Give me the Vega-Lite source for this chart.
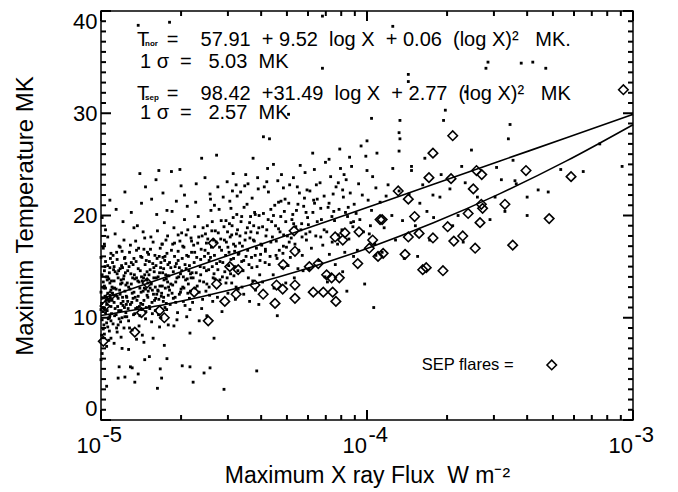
{
  "$schema": "https://vega.github.io/schema/vega-lite/v6.json",
  "autosize": "none",
  "width": 532,
  "height": 409,
  "padding": {"left": 101, "top": 11, "right": 45, "bottom": 72},
  "background": "white",
  "config": {
    "font": "Liberation Sans",
    "view": {"stroke": "black", "strokeWidth": 1.5},
    "axis": {"grid": false, "domain": false, "ticks": false, "tickSize": 0, "labelColor": "black", "titleColor": "black", "titleFontWeight": "normal", "labelOverlap": false}
  },
  "datasets": {
    "dots": [
{"flux":1.00e-5,"temp":12.5},{"flux":1.01e-5,"temp":9.8},{"flux":1.01e-5,"temp":14.2},{"flux":1.02e-5,"temp":11.0},{"flux":1.02e-5,"temp":16.8},{"flux":1.03e-5,"temp":8.4},{"flux":1.03e-5,"temp":13.1},{"flux":1.04e-5,"temp":10.5},{"flux":1.04e-5,"temp":15.5},{"flux":1.05e-5,"temp":12.0},{"flux":1.05e-5,"temp":7.2},{"flux":1.06e-5,"temp":17.9},{"flux":1.06e-5,"temp":9.1},{"flux":1.07e-5,"temp":13.8},{"flux":1.07e-5,"temp":11.6},{"flux":1.08e-5,"temp":10.2},{"flux":1.08e-5,"temp":14.9},{"flux":1.09e-5,"temp":8.0},{"flux":1.09e-5,"temp":12.7},{"flux":1.00e-5,"temp":15.9},{"flux":1.01e-5,"temp":6.5},{"flux":1.02e-5,"temp":13.5},{"flux":1.03e-5,"temp":10.9},{"flux":1.04e-5,"temp":18.6},{"flux":1.05e-5,"temp":9.5},{"flux":1.06e-5,"temp":14.0},{"flux":1.07e-5,"temp":7.8},{"flux":1.08e-5,"temp":12.2},{"flux":1.09e-5,"temp":16.3},{"flux":1.00e-5,"temp":10.8},{"flux":1.02e-5,"temp":8.9},{"flux":1.03e-5,"temp":17.2},{"flux":1.04e-5,"temp":12.9},{"flux":1.05e-5,"temp":11.3},{"flux":1.06e-5,"temp":15.1},{"flux":1.07e-5,"temp":10.0},{"flux":1.08e-5,"temp":13.4},{"flux":1.09e-5,"temp":11.1},{"flux":1.00e-5,"temp":5.9},{"flux":1.01e-5,"temp":19.8},{"flux":1.05e-5,"temp":3.3},{"flux":1.08e-5,"temp":21.5},{"flux":1.03e-5,"temp":14.6},{"flux":1.06e-5,"temp":12.4},{"flux":1.09e-5,"temp":9.7},
{"flux":1.10e-5,"temp":13.0},{"flux":1.11e-5,"temp":9.4},{"flux":1.11e-5,"temp":16.1},{"flux":1.12e-5,"temp":11.5},{"flux":1.12e-5,"temp":7.5},{"flux":1.13e-5,"temp":14.5},{"flux":1.13e-5,"temp":18.2},{"flux":1.14e-5,"temp":10.3},{"flux":1.14e-5,"temp":12.8},{"flux":1.15e-5,"temp":15.7},{"flux":1.15e-5,"temp":8.6},{"flux":1.16e-5,"temp":11.9},{"flux":1.16e-5,"temp":13.9},{"flux":1.17e-5,"temp":9.9},{"flux":1.17e-5,"temp":17.0},{"flux":1.18e-5,"temp":12.3},{"flux":1.18e-5,"temp":14.8},{"flux":1.19e-5,"temp":10.7},{"flux":1.19e-5,"temp":8.1},{"flux":1.20e-5,"temp":13.4},{"flux":1.20e-5,"temp":16.5},{"flux":1.21e-5,"temp":11.2},{"flux":1.21e-5,"temp":19.4},{"flux":1.22e-5,"temp":9.0},{"flux":1.22e-5,"temp":14.1},{"flux":1.23e-5,"temp":12.6},{"flux":1.23e-5,"temp":10.1},{"flux":1.24e-5,"temp":15.3},{"flux":1.24e-5,"temp":13.2},{"flux":1.10e-5,"temp":11.7},{"flux":1.12e-5,"temp":15.0},{"flux":1.13e-5,"temp":10.9},{"flux":1.15e-5,"temp":12.1},{"flux":1.16e-5,"temp":9.3},{"flux":1.18e-5,"temp":16.9},{"flux":1.19e-5,"temp":13.7},{"flux":1.21e-5,"temp":11.6},{"flux":1.22e-5,"temp":17.6},{"flux":1.24e-5,"temp":10.5},{"flux":1.11e-5,"temp":12.9},{"flux":1.14e-5,"temp":20.6},{"flux":1.17e-5,"temp":5.2},{"flux":1.20e-5,"temp":7.0},{"flux":1.23e-5,"temp":22.3},{"flux":1.15e-5,"temp":14.3},{"flux":1.19e-5,"temp":11.4},{"flux":1.12e-5,"temp":13.6},{"flux":1.20e-5,"temp":10.0},{"flux":1.16e-5,"temp":4.1},{"flux":1.23e-5,"temp":15.9},
{"flux":1.25e-5,"temp":12.0},{"flux":1.26e-5,"temp":14.6},{"flux":1.27e-5,"temp":9.7},{"flux":1.28e-5,"temp":16.4},{"flux":1.29e-5,"temp":11.3},{"flux":1.30e-5,"temp":13.3},{"flux":1.31e-5,"temp":8.8},{"flux":1.32e-5,"temp":15.2},{"flux":1.33e-5,"temp":12.5},{"flux":1.34e-5,"temp":10.4},{"flux":1.35e-5,"temp":17.5},{"flux":1.36e-5,"temp":13.9},{"flux":1.37e-5,"temp":11.0},{"flux":1.38e-5,"temp":14.8},{"flux":1.39e-5,"temp":9.2},{"flux":1.40e-5,"temp":12.9},{"flux":1.41e-5,"temp":16.0},{"flux":1.42e-5,"temp":10.8},{"flux":1.43e-5,"temp":13.6},{"flux":1.44e-5,"temp":18.4},{"flux":1.45e-5,"temp":11.7},{"flux":1.46e-5,"temp":14.2},{"flux":1.47e-5,"temp":9.9},{"flux":1.48e-5,"temp":15.6},{"flux":1.49e-5,"temp":12.2},{"flux":1.25e-5,"temp":10.1},{"flux":1.27e-5,"temp":13.0},{"flux":1.29e-5,"temp":17.1},{"flux":1.31e-5,"temp":12.4},{"flux":1.33e-5,"temp":15.8},{"flux":1.35e-5,"temp":10.9},{"flux":1.37e-5,"temp":19.0},{"flux":1.39e-5,"temp":13.5},{"flux":1.41e-5,"temp":11.4},{"flux":1.43e-5,"temp":8.3},{"flux":1.45e-5,"temp":16.7},{"flux":1.47e-5,"temp":12.8},{"flux":1.49e-5,"temp":14.5},{"flux":1.26e-5,"temp":11.6},{"flux":1.28e-5,"temp":9.0},{"flux":1.30e-5,"temp":15.4},{"flux":1.32e-5,"temp":11.9},{"flux":1.34e-5,"temp":13.8},{"flux":1.36e-5,"temp":16.6},{"flux":1.38e-5,"temp":12.1},{"flux":1.40e-5,"temp":10.2},{"flux":1.42e-5,"temp":14.0},{"flux":1.44e-5,"temp":12.6},{"flux":1.46e-5,"temp":17.8},{"flux":1.48e-5,"temp":11.0},{"flux":1.30e-5,"temp":20.3},{"flux":1.42e-5,"temp":21.2},{"flux":1.34e-5,"temp":3.7},{"flux":1.38e-5,"temp":4.5},{"flux":1.47e-5,"temp":22.8},{"flux":1.27e-5,"temp":6.9},{"flux":1.45e-5,"temp":7.6},{"flux":1.33e-5,"temp":18.8},{"flux":1.40e-5,"temp":24.1},{"flux":1.36e-5,"temp":7.9},
{"flux":1.50e-5,"temp":13.4},{"flux":1.51e-5,"temp":16.2},{"flux":1.52e-5,"temp":11.1},{"flux":1.53e-5,"temp":14.7},{"flux":1.55e-5,"temp":9.6},{"flux":1.56e-5,"temp":12.7},{"flux":1.57e-5,"temp":17.4},{"flux":1.58e-5,"temp":13.9},{"flux":1.60e-5,"temp":10.7},{"flux":1.61e-5,"temp":15.1},{"flux":1.62e-5,"temp":12.3},{"flux":1.63e-5,"temp":18.5},{"flux":1.65e-5,"temp":11.8},{"flux":1.66e-5,"temp":14.4},{"flux":1.67e-5,"temp":16.8},{"flux":1.68e-5,"temp":10.0},{"flux":1.70e-5,"temp":13.1},{"flux":1.71e-5,"temp":15.9},{"flux":1.72e-5,"temp":12.0},{"flux":1.73e-5,"temp":19.3},{"flux":1.75e-5,"temp":14.2},{"flux":1.76e-5,"temp":11.4},{"flux":1.77e-5,"temp":16.3},{"flux":1.78e-5,"temp":13.5},{"flux":1.79e-5,"temp":9.3},{"flux":1.50e-5,"temp":12.0},{"flux":1.52e-5,"temp":15.5},{"flux":1.54e-5,"temp":17.9},{"flux":1.56e-5,"temp":10.4},{"flux":1.58e-5,"temp":14.9},{"flux":1.60e-5,"temp":13.0},{"flux":1.62e-5,"temp":20.1},{"flux":1.64e-5,"temp":12.6},{"flux":1.66e-5,"temp":9.1},{"flux":1.68e-5,"temp":15.4},{"flux":1.70e-5,"temp":17.2},{"flux":1.72e-5,"temp":14.8},{"flux":1.74e-5,"temp":11.0},{"flux":1.76e-5,"temp":13.8},{"flux":1.78e-5,"temp":18.0},{"flux":1.53e-5,"temp":12.9},{"flux":1.59e-5,"temp":11.7},{"flux":1.64e-5,"temp":14.0},{"flux":1.69e-5,"temp":12.4},{"flux":1.74e-5,"temp":16.0},{"flux":1.79e-5,"temp":12.2},{"flux":1.55e-5,"temp":21.6},{"flux":1.61e-5,"temp":23.5},{"flux":1.67e-5,"temp":5.0},{"flux":1.71e-5,"temp":22.2},{"flux":1.57e-5,"temp":8.0},{"flux":1.65e-5,"temp":24.4},{"flux":1.77e-5,"temp":20.5},{"flux":1.73e-5,"temp":7.3},{"flux":1.63e-5,"temp":3.1},
{"flux":1.80e-5,"temp":14.1},{"flux":1.82e-5,"temp":11.3},{"flux":1.84e-5,"temp":16.6},{"flux":1.86e-5,"temp":13.2},{"flux":1.88e-5,"temp":18.8},{"flux":1.90e-5,"temp":12.0},{"flux":1.92e-5,"temp":15.3},{"flux":1.94e-5,"temp":10.5},{"flux":1.96e-5,"temp":14.0},{"flux":1.98e-5,"temp":17.5},{"flux":2.00e-5,"temp":12.8},{"flux":2.02e-5,"temp":15.8},{"flux":2.04e-5,"temp":11.6},{"flux":2.06e-5,"temp":19.6},{"flux":2.08e-5,"temp":13.7},{"flux":2.10e-5,"temp":16.1},{"flux":2.12e-5,"temp":12.4},{"flux":2.14e-5,"temp":14.6},{"flux":2.16e-5,"temp":10.8},{"flux":2.18e-5,"temp":17.8},{"flux":1.81e-5,"temp":12.7},{"flux":1.83e-5,"temp":14.9},{"flux":1.85e-5,"temp":20.4},{"flux":1.87e-5,"temp":11.9},{"flux":1.89e-5,"temp":16.0},{"flux":1.91e-5,"temp":13.5},{"flux":1.93e-5,"temp":9.8},{"flux":1.95e-5,"temp":15.6},{"flux":1.97e-5,"temp":12.3},{"flux":1.99e-5,"temp":14.3},{"flux":2.01e-5,"temp":18.3},{"flux":2.03e-5,"temp":13.0},{"flux":2.05e-5,"temp":16.9},{"flux":2.07e-5,"temp":11.2},{"flux":2.09e-5,"temp":14.8},{"flux":2.11e-5,"temp":20.9},{"flux":2.13e-5,"temp":13.3},{"flux":2.15e-5,"temp":15.1},{"flux":2.17e-5,"temp":12.6},{"flux":2.19e-5,"temp":16.4},{"flux":1.84e-5,"temp":24.3},{"flux":1.98e-5,"temp":24.5},{"flux":1.92e-5,"temp":21.4},{"flux":2.06e-5,"temp":22.0},{"flux":2.16e-5,"temp":8.5},{"flux":1.88e-5,"temp":9.2},{"flux":2.02e-5,"temp":5.3},{"flux":1.95e-5,"temp":18.1},{"flux":2.10e-5,"temp":10.1},{"flux":2.00e-5,"temp":22.9},{"flux":1.86e-5,"temp":17.2},{"flux":2.12e-5,"temp":18.6},{"flux":2.04e-5,"temp":14.0},{"flux":1.90e-5,"temp":15.0},{"flux":2.18e-5,"temp":13.9},
{"flux":2.20e-5,"temp":14.4},{"flux":2.23e-5,"temp":17.1},{"flux":2.26e-5,"temp":12.9},{"flux":2.29e-5,"temp":15.9},{"flux":2.32e-5,"temp":19.9},{"flux":2.35e-5,"temp":13.6},{"flux":2.38e-5,"temp":16.7},{"flux":2.41e-5,"temp":11.8},{"flux":2.44e-5,"temp":14.9},{"flux":2.47e-5,"temp":18.2},{"flux":2.50e-5,"temp":13.3},{"flux":2.53e-5,"temp":16.3},{"flux":2.56e-5,"temp":12.2},{"flux":2.59e-5,"temp":20.5},{"flux":2.62e-5,"temp":15.0},{"flux":2.65e-5,"temp":17.6},{"flux":2.68e-5,"temp":13.8},{"flux":2.21e-5,"temp":11.5},{"flux":2.24e-5,"temp":15.4},{"flux":2.27e-5,"temp":21.3},{"flux":2.30e-5,"temp":13.1},{"flux":2.33e-5,"temp":17.9},{"flux":2.36e-5,"temp":15.0},{"flux":2.39e-5,"temp":10.9},{"flux":2.42e-5,"temp":18.8},{"flux":2.45e-5,"temp":16.0},{"flux":2.48e-5,"temp":12.6},{"flux":2.51e-5,"temp":19.0},{"flux":2.54e-5,"temp":14.7},{"flux":2.57e-5,"temp":22.1},{"flux":2.60e-5,"temp":16.9},{"flux":2.63e-5,"temp":11.6},{"flux":2.66e-5,"temp":14.3},{"flux":2.69e-5,"temp":18.5},{"flux":2.39e-5,"temp":25.6},{"flux":2.22e-5,"temp":3.7},{"flux":2.44e-5,"temp":4.6},{"flux":2.58e-5,"temp":21.6},{"flux":2.28e-5,"temp":23.1},{"flux":2.66e-5,"temp":8.0},{"flux":2.50e-5,"temp":10.2},{"flux":2.34e-5,"temp":9.7},{"flux":2.72e-5,"temp":25.9},{"flux":2.46e-5,"temp":23.7},{"flux":2.62e-5,"temp":19.4},{"flux":2.25e-5,"temp":18.9},{"flux":2.55e-5,"temp":15.6},{"flux":2.37e-5,"temp":14.2},{"flux":2.49e-5,"temp":17.3},{"flux":2.67e-5,"temp":21.0},
{"flux":2.72e-5,"temp":15.3},{"flux":2.76e-5,"temp":18.3},{"flux":2.80e-5,"temp":13.7},{"flux":2.84e-5,"temp":16.6},{"flux":2.88e-5,"temp":21.8},{"flux":2.92e-5,"temp":14.5},{"flux":2.96e-5,"temp":17.4},{"flux":3.00e-5,"temp":12.4},{"flux":3.04e-5,"temp":19.2},{"flux":3.08e-5,"temp":15.7},{"flux":3.12e-5,"temp":22.4},{"flux":3.16e-5,"temp":14.1},{"flux":3.20e-5,"temp":17.0},{"flux":3.24e-5,"temp":20.1},{"flux":3.28e-5,"temp":16.2},{"flux":2.74e-5,"temp":12.0},{"flux":2.78e-5,"temp":20.6},{"flux":2.82e-5,"temp":17.7},{"flux":2.86e-5,"temp":14.0},{"flux":2.90e-5,"temp":18.9},{"flux":2.94e-5,"temp":16.1},{"flux":2.98e-5,"temp":23.3},{"flux":3.02e-5,"temp":15.1},{"flux":3.06e-5,"temp":17.9},{"flux":3.10e-5,"temp":13.4},{"flux":3.14e-5,"temp":19.8},{"flux":3.18e-5,"temp":16.5},{"flux":3.22e-5,"temp":13.0},{"flux":3.26e-5,"temp":18.6},{"flux":3.14e-5,"temp":24.1},{"flux":3.05e-5,"temp":21.4},{"flux":2.85e-5,"temp":10.6},{"flux":3.20e-5,"temp":11.8},{"flux":2.95e-5,"temp":19.5},{"flux":3.25e-5,"temp":21.9},{"flux":2.80e-5,"temp":15.5},{"flux":3.00e-5,"temp":16.9},{"flux":3.10e-5,"temp":18.1},{"flux":2.75e-5,"temp":22.8},{"flux":3.28e-5,"temp":12.8},{"flux":2.90e-5,"temp":3.0},{"flux":3.15e-5,"temp":15.8},{"flux":2.98e-5,"temp":13.9},{"flux":3.08e-5,"temp":20.7},{"flux":3.22e-5,"temp":23.0},
{"flux":3.30e-5,"temp":16.3},{"flux":3.36e-5,"temp":19.4},{"flux":3.42e-5,"temp":14.6},{"flux":3.48e-5,"temp":17.6},{"flux":3.54e-5,"temp":21.1},{"flux":3.60e-5,"temp":15.2},{"flux":3.66e-5,"temp":18.4},{"flux":3.72e-5,"temp":13.6},{"flux":3.78e-5,"temp":20.3},{"flux":3.84e-5,"temp":16.8},{"flux":3.90e-5,"temp":22.6},{"flux":3.96e-5,"temp":15.6},{"flux":3.33e-5,"temp":18.0},{"flux":3.39e-5,"temp":13.0},{"flux":3.45e-5,"temp":20.8},{"flux":3.51e-5,"temp":16.0},{"flux":3.57e-5,"temp":23.1},{"flux":3.63e-5,"temp":17.8},{"flux":3.69e-5,"temp":14.9},{"flux":3.75e-5,"temp":19.0},{"flux":3.81e-5,"temp":12.7},{"flux":3.87e-5,"temp":18.3},{"flux":3.93e-5,"temp":20.0},{"flux":3.99e-5,"temp":17.2},{"flux":3.73e-5,"temp":25.6},{"flux":3.35e-5,"temp":22.3},{"flux":3.50e-5,"temp":24.0},{"flux":3.85e-5,"temp":4.8},{"flux":3.62e-5,"temp":11.6},{"flux":3.44e-5,"temp":12.3},{"flux":3.95e-5,"temp":14.2},{"flux":3.70e-5,"temp":21.7},{"flux":3.40e-5,"temp":17.0},{"flux":3.80e-5,"temp":16.1},{"flux":3.55e-5,"temp":18.8},{"flux":3.65e-5,"temp":19.9},{"flux":3.92e-5,"temp":11.3},{"flux":3.38e-5,"temp":15.5},{"flux":3.88e-5,"temp":23.7},{"flux":3.58e-5,"temp":13.9},{"flux":3.47e-5,"temp":22.9},{"flux":3.77e-5,"temp":17.5},
{"flux":4.02e-5,"temp":17.1},{"flux":4.08e-5,"temp":20.2},{"flux":4.14e-5,"temp":15.4},{"flux":4.20e-5,"temp":18.6},{"flux":4.26e-5,"temp":22.3},{"flux":4.32e-5,"temp":16.0},{"flux":4.38e-5,"temp":19.4},{"flux":4.44e-5,"temp":14.2},{"flux":4.50e-5,"temp":21.0},{"flux":4.56e-5,"temp":17.5},{"flux":4.62e-5,"temp":23.4},{"flux":4.68e-5,"temp":16.6},{"flux":4.74e-5,"temp":19.9},{"flux":4.80e-5,"temp":14.9},{"flux":4.86e-5,"temp":18.1},{"flux":4.92e-5,"temp":21.6},{"flux":4.98e-5,"temp":16.9},{"flux":4.05e-5,"temp":13.5},{"flux":4.11e-5,"temp":22.8},{"flux":4.17e-5,"temp":18.0},{"flux":4.23e-5,"temp":24.6},{"flux":4.29e-5,"temp":15.2},{"flux":4.35e-5,"temp":20.6},{"flux":4.41e-5,"temp":17.9},{"flux":4.47e-5,"temp":12.9},{"flux":4.53e-5,"temp":19.0},{"flux":4.59e-5,"temp":15.8},{"flux":4.65e-5,"temp":21.3},{"flux":4.71e-5,"temp":18.4},{"flux":4.77e-5,"temp":24.0},{"flux":4.83e-5,"temp":16.3},{"flux":4.89e-5,"temp":20.4},{"flux":4.95e-5,"temp":13.4},{"flux":4.08e-5,"temp":27.7},{"flux":4.30e-5,"temp":27.5},{"flux":4.20e-5,"temp":23.3},{"flux":4.60e-5,"temp":10.2},{"flux":4.45e-5,"temp":25.0},{"flux":4.85e-5,"temp":22.7},{"flux":4.15e-5,"temp":16.7},
{"flux":5.02e-5,"temp":18.0},{"flux":5.08e-5,"temp":21.2},{"flux":5.15e-5,"temp":15.9},{"flux":5.22e-5,"temp":19.6},{"flux":5.29e-5,"temp":23.7},{"flux":5.36e-5,"temp":17.2},{"flux":5.43e-5,"temp":20.5},{"flux":5.50e-5,"temp":14.8},{"flux":5.57e-5,"temp":22.2},{"flux":5.64e-5,"temp":18.6},{"flux":5.71e-5,"temp":16.1},{"flux":5.78e-5,"temp":20.9},{"flux":5.85e-5,"temp":24.2},{"flux":5.92e-5,"temp":17.6},{"flux":5.98e-5,"temp":19.8},{"flux":5.05e-5,"temp":15.1},{"flux":5.12e-5,"temp":23.0},{"flux":5.19e-5,"temp":17.8},{"flux":5.26e-5,"temp":20.1},{"flux":5.33e-5,"temp":13.9},{"flux":5.40e-5,"temp":18.9},{"flux":5.47e-5,"temp":22.8},{"flux":5.54e-5,"temp":16.6},{"flux":5.61e-5,"temp":24.9},{"flux":5.68e-5,"temp":19.2},{"flux":5.75e-5,"temp":14.6},{"flux":5.82e-5,"temp":21.7},{"flux":5.89e-5,"temp":18.2},{"flux":5.07e-5,"temp":29.9},{"flux":5.95e-5,"temp":22.5},
{"flux":6.02e-5,"temp":19.1},{"flux":6.10e-5,"temp":22.4},{"flux":6.18e-5,"temp":16.8},{"flux":6.26e-5,"temp":20.3},{"flux":6.34e-5,"temp":24.5},{"flux":6.42e-5,"temp":18.0},{"flux":6.50e-5,"temp":21.6},{"flux":6.58e-5,"temp":15.6},{"flux":6.66e-5,"temp":23.2},{"flux":6.74e-5,"temp":19.6},{"flux":6.82e-5,"temp":17.1},{"flux":6.90e-5,"temp":21.9},{"flux":6.98e-5,"temp":25.2},{"flux":7.06e-5,"temp":18.4},{"flux":7.14e-5,"temp":20.8},{"flux":7.22e-5,"temp":16.2},{"flux":7.30e-5,"temp":23.8},{"flux":7.38e-5,"temp":19.9},{"flux":7.46e-5,"temp":22.1},{"flux":6.06e-5,"temp":14.8},{"flux":6.25e-5,"temp":26.1},{"flux":6.45e-5,"temp":23.0},{"flux":6.70e-5,"temp":17.9},{"flux":6.95e-5,"temp":14.0},{"flux":7.20e-5,"temp":25.5},{"flux":7.40e-5,"temp":17.4},{"flux":6.80e-5,"temp":34.4},{"flux":6.80e-5,"temp":39.5},{"flux":6.35e-5,"temp":21.2},{"flux":7.10e-5,"temp":13.5},
{"flux":7.55e-5,"temp":19.5},{"flux":7.65e-5,"temp":22.8},{"flux":7.75e-5,"temp":17.2},{"flux":7.85e-5,"temp":20.6},{"flux":7.95e-5,"temp":24.6},{"flux":8.05e-5,"temp":18.6},{"flux":8.15e-5,"temp":21.8},{"flux":8.25e-5,"temp":16.4},{"flux":8.35e-5,"temp":23.5},{"flux":8.45e-5,"temp":19.9},{"flux":8.55e-5,"temp":17.7},{"flux":8.65e-5,"temp":22.2},{"flux":8.75e-5,"temp":24.8},{"flux":8.85e-5,"temp":18.9},{"flux":8.95e-5,"temp":21.1},{"flux":7.60e-5,"temp":15.2},{"flux":7.90e-5,"temp":26.5},{"flux":8.10e-5,"temp":14.5},{"flux":8.30e-5,"temp":20.3},{"flux":8.60e-5,"temp":25.7},{"flux":8.90e-5,"temp":16.0},{"flux":7.80e-5,"temp":23.2},{"flux":8.40e-5,"temp":12.6},{"flux":8.70e-5,"temp":19.3},{"flux":8.20e-5,"temp":24.0},
{"flux":0.91e-4,"temp":20.2},{"flux":0.93e-4,"temp":23.1},{"flux":0.95e-4,"temp":26.8},{"flux":0.97e-4,"temp":18.4},{"flux":0.99e-4,"temp":25.8},{"flux":1.01e-4,"temp":21.5},{"flux":1.03e-4,"temp":19.0},{"flux":1.05e-4,"temp":23.8},{"flux":1.07e-4,"temp":17.2},{"flux":1.09e-4,"temp":26.1},{"flux":0.92e-4,"temp":16.6},{"flux":0.96e-4,"temp":22.0},{"flux":1.00e-4,"temp":24.4},{"flux":1.04e-4,"temp":20.5},{"flux":1.08e-4,"temp":22.7},{"flux":0.94e-4,"temp":19.6},{"flux":0.98e-4,"temp":13.3},{"flux":1.02e-4,"temp":18.2},{"flux":1.06e-4,"temp":11.0},{"flux":1.04e-4,"temp":29.5},{"flux":1.00e-4,"temp":27.3},{"flux":1.08e-4,"temp":16.1},
{"flux":1.12e-4,"temp":21.3},{"flux":1.16e-4,"temp":18.8},{"flux":1.20e-4,"temp":23.0},{"flux":1.24e-4,"temp":20.0},{"flux":1.28e-4,"temp":17.6},{"flux":1.32e-4,"temp":22.4},{"flux":1.36e-4,"temp":19.5},{"flux":1.25e-4,"temp":24.6},{"flux":1.32e-4,"temp":28.1},{"flux":1.32e-4,"temp":26.3},{"flux":1.33e-4,"temp":29.3},{"flux":1.33e-4,"temp":27.5},{"flux":1.14e-4,"temp":16.4},{"flux":1.38e-4,"temp":15.8},{"flux":1.25e-4,"temp":38.5},{"flux":1.18e-4,"temp":21.9},
{"flux":1.43e-4,"temp":33.8},{"flux":1.43e-4,"temp":33.1},{"flux":1.47e-4,"temp":24.8},{"flux":1.47e-4,"temp":24.4},{"flux":1.62e-4,"temp":23.0},{"flux":1.77e-4,"temp":22.0},{"flux":1.58e-4,"temp":21.2},{"flux":1.52e-4,"temp":19.0},{"flux":1.68e-4,"temp":20.4},{"flux":1.44e-4,"temp":22.1},{"flux":1.72e-4,"temp":17.6},{"flux":1.55e-4,"temp":16.0},{"flux":1.65e-4,"temp":25.6},{"flux":1.78e-4,"temp":19.8},
{"flux":1.88e-4,"temp":21.8},{"flux":1.90e-4,"temp":24.0},{"flux":1.94e-4,"temp":29.3},{"flux":1.97e-4,"temp":30.3},{"flux":2.35e-4,"temp":32.1},{"flux":2.27e-4,"temp":24.8},{"flux":2.34e-4,"temp":23.2},{"flux":2.05e-4,"temp":22.6},{"flux":2.20e-4,"temp":20.0},{"flux":2.30e-4,"temp":17.4},{"flux":2.47e-4,"temp":26.4},{"flux":2.10e-4,"temp":19.0},
{"flux":2.80e-4,"temp":34.4},{"flux":2.85e-4,"temp":35.0},{"flux":2.90e-4,"temp":19.6},{"flux":3.03e-4,"temp":21.8},{"flux":3.07e-4,"temp":24.7},{"flux":3.20e-4,"temp":23.5},{"flux":3.40e-4,"temp":27.5},{"flux":3.45e-4,"temp":28.9},{"flux":3.54e-4,"temp":25.4},{"flux":3.60e-4,"temp":23.4},{"flux":3.64e-4,"temp":23.1},{"flux":2.60e-4,"temp":21.8},{"flux":3.30e-4,"temp":20.4},{"flux":3.80e-4,"temp":34.9},
{"flux":4.00e-4,"temp":21.8},{"flux":4.00e-4,"temp":20.0},{"flux":4.20e-4,"temp":35.0},{"flux":4.70e-4,"temp":34.4},{"flux":4.80e-4,"temp":22.3},{"flux":5.35e-4,"temp":24.5},{"flux":6.50e-4,"temp":24.3},{"flux":9.10e-4,"temp":24.8},{"flux":4.40e-4,"temp":22.5},{"flux":7.50e-4,"temp":27.0},
{"flux":1.23e-5,"temp":4.2},{"flux":1.29e-5,"temp":5.2},{"flux":1.31e-5,"temp":5.1},{"flux":1.46e-5,"temp":5.9},{"flux":1.52e-5,"temp":6.2},{"flux":1.77e-5,"temp":6.0},{"flux":2.16e-5,"temp":5.2},{"flux":2.57e-5,"temp":5.1},{"flux":1.69e-5,"temp":4.1},{"flux":1.38e-5,"temp":38.6},{"flux":1.81e-5,"temp":38.9},
{"flux":1.005e-5,"temp":11.4},{"flux":1.015e-5,"temp":13.0},{"flux":1.025e-5,"temp":9.3},{"flux":1.035e-5,"temp":12.1},{"flux":1.045e-5,"temp":14.0},{"flux":1.055e-5,"temp":10.7},{"flux":1.065e-5,"temp":11.8},{"flux":1.075e-5,"temp":8.7},{"flux":1.085e-5,"temp":15.8},{"flux":1.095e-5,"temp":13.6},
{"flux":1.005e-5,"temp":8.3},{"flux":1.015e-5,"temp":10.6},{"flux":1.025e-5,"temp":12.9},{"flux":1.035e-5,"temp":15.0},{"flux":1.045e-5,"temp":11.7},{"flux":1.055e-5,"temp":13.7},{"flux":1.065e-5,"temp":9.9},{"flux":1.075e-5,"temp":14.4},{"flux":1.085e-5,"temp":11.9},{"flux":1.095e-5,"temp":10.4},
{"flux":1.105e-5,"temp":12.4},{"flux":1.115e-5,"temp":14.7},{"flux":1.125e-5,"temp":10.2},{"flux":1.135e-5,"temp":12.2},{"flux":1.145e-5,"temp":16.4},{"flux":1.155e-5,"temp":11.1},{"flux":1.165e-5,"temp":14.6},{"flux":1.175e-5,"temp":12.7},{"flux":1.185e-5,"temp":9.6},{"flux":1.195e-5,"temp":15.1},
{"flux":1.205e-5,"temp":12.0},{"flux":1.215e-5,"temp":13.8},{"flux":1.225e-5,"temp":11.0},{"flux":1.235e-5,"temp":14.4},{"flux":1.245e-5,"temp":12.1},{"flux":1.105e-5,"temp":15.4},{"flux":1.125e-5,"temp":12.9},{"flux":1.145e-5,"temp":9.0},{"flux":1.165e-5,"temp":10.7},{"flux":1.185e-5,"temp":13.3},
{"flux":1.205e-5,"temp":14.9},{"flux":1.225e-5,"temp":15.8},{"flux":1.245e-5,"temp":11.3},{"flux":1.255e-5,"temp":13.4},{"flux":1.265e-5,"temp":10.9},{"flux":1.275e-5,"temp":15.0},{"flux":1.285e-5,"temp":12.8},{"flux":1.295e-5,"temp":14.3},{"flux":1.305e-5,"temp":11.5},{"flux":1.315e-5,"temp":13.9},
{"flux":1.325e-5,"temp":10.3},{"flux":1.335e-5,"temp":14.2},{"flux":1.345e-5,"temp":12.0},{"flux":1.355e-5,"temp":15.5},{"flux":1.365e-5,"temp":11.7},{"flux":1.375e-5,"temp":13.6},{"flux":1.385e-5,"temp":16.8},{"flux":1.395e-5,"temp":11.1},{"flux":1.405e-5,"temp":14.6},{"flux":1.415e-5,"temp":12.5},
{"flux":1.425e-5,"temp":15.9},{"flux":1.435e-5,"temp":11.3},{"flux":1.445e-5,"temp":13.9},{"flux":1.455e-5,"temp":12.9},{"flux":1.465e-5,"temp":15.2},{"flux":1.475e-5,"temp":10.6},{"flux":1.485e-5,"temp":13.7},{"flux":1.495e-5,"temp":16.4},
{"flux":1.505e-5,"temp":12.6},{"flux":1.515e-5,"temp":14.2},{"flux":1.525e-5,"temp":10.9},{"flux":1.535e-5,"temp":16.7},{"flux":1.545e-5,"temp":13.3},{"flux":1.555e-5,"temp":11.5},{"flux":1.565e-5,"temp":15.3},{"flux":1.575e-5,"temp":12.3},{"flux":1.585e-5,"temp":14.5},{"flux":1.595e-5,"temp":16.1},
{"flux":1.605e-5,"temp":11.9},{"flux":1.615e-5,"temp":13.9},{"flux":1.625e-5,"temp":15.8},{"flux":1.635e-5,"temp":12.7},{"flux":1.645e-5,"temp":10.3},{"flux":1.655e-5,"temp":16.0},{"flux":1.665e-5,"temp":13.1},{"flux":1.675e-5,"temp":14.9},{"flux":1.685e-5,"temp":12.1},{"flux":1.695e-5,"temp":17.2},
{"flux":1.705e-5,"temp":14.4},{"flux":1.715e-5,"temp":11.6},{"flux":1.725e-5,"temp":13.7},{"flux":1.735e-5,"temp":15.6},{"flux":1.745e-5,"temp":12.9},{"flux":1.755e-5,"temp":17.6},{"flux":1.765e-5,"temp":10.8},{"flux":1.775e-5,"temp":14.1},{"flux":1.785e-5,"temp":15.2},{"flux":1.795e-5,"temp":13.0},
{"flux":1.81e-5,"temp":15.4},{"flux":1.83e-5,"temp":13.3},{"flux":1.85e-5,"temp":12.4},{"flux":1.87e-5,"temp":14.5},{"flux":1.89e-5,"temp":17.3},{"flux":1.91e-5,"temp":11.5},{"flux":1.93e-5,"temp":13.9},{"flux":1.95e-5,"temp":16.5},{"flux":1.97e-5,"temp":14.9},{"flux":1.99e-5,"temp":12.5},
{"flux":2.01e-5,"temp":14.6},{"flux":2.03e-5,"temp":17.0},{"flux":2.05e-5,"temp":12.9},{"flux":2.07e-5,"temp":15.2},{"flux":2.09e-5,"temp":18.1},{"flux":2.11e-5,"temp":13.8},{"flux":2.13e-5,"temp":16.0},{"flux":2.15e-5,"temp":11.9},{"flux":2.17e-5,"temp":14.3},{"flux":2.19e-5,"temp":17.5},
{"flux":2.22e-5,"temp":13.9},{"flux":2.25e-5,"temp":16.4},{"flux":2.28e-5,"temp":14.4},{"flux":2.31e-5,"temp":17.3},{"flux":2.34e-5,"temp":12.5},{"flux":2.37e-5,"temp":15.7},{"flux":2.40e-5,"temp":18.0},{"flux":2.43e-5,"temp":13.5},{"flux":2.46e-5,"temp":16.6},{"flux":2.49e-5,"temp":14.6},
{"flux":2.52e-5,"temp":17.7},{"flux":2.55e-5,"temp":13.0},{"flux":2.58e-5,"temp":15.9},{"flux":2.61e-5,"temp":18.5},{"flux":2.64e-5,"temp":13.9},{"flux":2.67e-5,"temp":16.1},
{"flux":2.71e-5,"temp":17.4},{"flux":2.75e-5,"temp":14.7},{"flux":2.79e-5,"temp":16.9},{"flux":2.83e-5,"temp":19.5},{"flux":2.87e-5,"temp":15.4},{"flux":2.91e-5,"temp":17.6},{"flux":2.95e-5,"temp":13.4},{"flux":2.99e-5,"temp":18.4},{"flux":3.03e-5,"temp":16.4},{"flux":3.07e-5,"temp":14.3},{"flux":3.11e-5,"temp":19.0},{"flux":3.15e-5,"temp":17.2},{"flux":3.19e-5,"temp":15.0},{"flux":3.23e-5,"temp":18.2},{"flux":3.27e-5,"temp":14.6},
{"flux":3.32e-5,"temp":17.3},{"flux":3.38e-5,"temp":19.9},{"flux":3.44e-5,"temp":15.6},{"flux":3.50e-5,"temp":18.3},{"flux":3.56e-5,"temp":16.6},{"flux":3.62e-5,"temp":19.3},{"flux":3.68e-5,"temp":15.9},{"flux":3.74e-5,"temp":17.6},{"flux":3.80e-5,"temp":20.1},{"flux":3.86e-5,"temp":15.0},{"flux":3.92e-5,"temp":18.8},{"flux":3.98e-5,"temp":16.2},
{"flux":4.05e-5,"temp":18.9},{"flux":4.15e-5,"temp":16.5},{"flux":4.25e-5,"temp":19.6},{"flux":4.35e-5,"temp":17.4},{"flux":4.45e-5,"temp":20.0},{"flux":4.55e-5,"temp":16.1},{"flux":4.65e-5,"temp":18.7},{"flux":4.75e-5,"temp":21.4},{"flux":4.85e-5,"temp":17.0},{"flux":4.95e-5,"temp":19.4},
{"flux":5.1e-5,"temp":17.4},{"flux":5.3e-5,"temp":19.2},{"flux":5.5e-5,"temp":21.1},{"flux":5.7e-5,"temp":17.9},{"flux":5.9e-5,"temp":20.3},{"flux":6.1e-5,"temp":18.4},{"flux":6.3e-5,"temp":21.5},{"flux":6.5e-5,"temp":19.4},{"flux":6.7e-5,"temp":20.7},{"flux":6.9e-5,"temp":18.6},{"flux":7.2e-5,"temp":21.2},{"flux":7.5e-5,"temp":20.4},{"flux":7.8e-5,"temp":18.1},{"flux":8.1e-5,"temp":22.5},{"flux":8.5e-5,"temp":20.8},{"flux":8.9e-5,"temp":19.4}
    ],
    "sep": [
{"flux":9.2e-4,"temp":32.3},{"flux":2.10e-4,"temp":27.8},{"flux":1.77e-4,"temp":26.1},{"flux":2.58e-4,"temp":24.4},{"flux":2.70e-4,"temp":24.0},{"flux":2.07e-4,"temp":23.6},{"flux":1.71e-4,"temp":23.7},{"flux":3.96e-4,"temp":24.4},{"flux":5.85e-4,"temp":23.8},{"flux":1.31e-4,"temp":22.4},{"flux":1.43e-4,"temp":21.6},{"flux":2.51e-4,"temp":22.6},{"flux":1.51e-4,"temp":19.9},{"flux":1.12e-4,"temp":19.6},{"flux":2.69e-4,"temp":21.1},{"flux":2.72e-4,"temp":20.7},{"flux":3.30e-4,"temp":21.1},{"flux":2.40e-4,"temp":20.2},{"flux":2.66e-4,"temp":19.3},{"flux":4.84e-4,"temp":19.7},{"flux":2.01e-4,"temp":18.9},{"flux":1.57e-4,"temp":18.25},{"flux":1.43e-4,"temp":17.9},{"flux":1.77e-4,"temp":17.8},{"flux":2.29e-4,"temp":18.0},{"flux":2.12e-4,"temp":17.5},{"flux":2.55e-4,"temp":16.8},{"flux":3.53e-4,"temp":17.1},{"flux":1.39e-4,"temp":16.2},{"flux":1.62e-4,"temp":14.7},{"flux":1.67e-4,"temp":14.9},{"flux":1.93e-4,"temp":14.6},
{"flux":2.64e-5,"temp":17.3},{"flux":5.32e-5,"temp":18.5},{"flux":5.36e-5,"temp":16.5},{"flux":7.59e-5,"temp":17.9},{"flux":8.26e-5,"temp":18.3},{"flux":8.11e-5,"temp":17.6},{"flux":9.33e-5,"temp":18.4},{"flux":1.14e-4,"temp":19.6},{"flux":1.05e-4,"temp":17.6},{"flux":1.02e-4,"temp":16.8},{"flux":1.10e-4,"temp":16.0},{"flux":1.15e-4,"temp":16.3},{"flux":9.23e-5,"temp":15.3},{"flux":3.05e-5,"temp":15.0},{"flux":3.28e-5,"temp":14.7},{"flux":2.72e-5,"temp":13.3},{"flux":2.24e-5,"temp":12.5},{"flux":4.84e-5,"temp":15.2},{"flux":6.56e-5,"temp":15.3},{"flux":6.07e-5,"temp":15.0},{"flux":7.05e-5,"temp":14.2},{"flux":7.36e-5,"temp":13.9},{"flux":7.87e-5,"temp":13.9},{"flux":3.79e-5,"temp":13.2},{"flux":4.07e-5,"temp":12.3},{"flux":4.57e-5,"temp":13.2},{"flux":4.82e-5,"temp":12.8},{"flux":5.36e-5,"temp":11.9},{"flux":5.36e-5,"temp":13.2},{"flux":4.51e-5,"temp":11.4},{"flux":6.28e-5,"temp":12.5},{"flux":6.85e-5,"temp":12.5},{"flux":7.43e-5,"temp":12.5},{"flux":7.64e-5,"temp":11.6},{"flux":2.92e-5,"temp":11.6},{"flux":2.53e-5,"temp":9.7},{"flux":1.49e-5,"temp":13.4},{"flux":1.66e-5,"temp":10.7},{"flux":1.73e-5,"temp":10.0},{"flux":1.42e-5,"temp":10.5},{"flux":1.34e-5,"temp":8.6},{"flux":1.035e-5,"temp":11.15},{"flux":1.02e-5,"temp":7.7},{"flux":1.08e-5,"temp":12.1},{"flux":3.22e-5,"temp":12.3}
    ],
    "fits": [
{"fit":"nor","flux":1e-5,"temp":11.81},{"fit":"nor","flux":1.778e-5,"temp":14.04},{"fit":"nor","flux":3.162e-5,"temp":16.29},{"fit":"nor","flux":5.623e-5,"temp":18.53},{"fit":"nor","flux":1e-4,"temp":20.79},{"fit":"nor","flux":1.778e-4,"temp":23.05},{"fit":"nor","flux":3.162e-4,"temp":25.33},{"fit":"nor","flux":5.623e-4,"temp":27.6},{"fit":"nor","flux":1e-3,"temp":29.89},
{"fit":"sep","flux":1e-5,"temp":10.22},{"fit":"sep","flux":1.778e-5,"temp":11.34},{"fit":"sep","flux":3.162e-5,"temp":12.81},{"fit":"sep","flux":5.623e-5,"temp":14.62},{"fit":"sep","flux":1e-4,"temp":16.78},{"fit":"sep","flux":1.778e-4,"temp":19.28},{"fit":"sep","flux":3.162e-4,"temp":22.14},{"fit":"sep","flux":5.623e-4,"temp":25.34},{"fit":"sep","flux":1e-3,"temp":28.88}
    ],
    "xmajor": [{"v":1e-5},{"v":1e-4},{"v":1e-3}],
    "xminor": [{"v":2e-5},{"v":3e-5},{"v":4e-5},{"v":5e-5},{"v":6e-5},{"v":7e-5},{"v":8e-5},{"v":9e-5},{"v":2e-4},{"v":3e-4},{"v":4e-4},{"v":5e-4},{"v":6e-4},{"v":7e-4},{"v":8e-4},{"v":9e-4}],
    "ymajor": [{"v":0},{"v":10},{"v":20},{"v":30},{"v":40}],
    "yminor": [{"v":1},{"v":2},{"v":3},{"v":4},{"v":5},{"v":6},{"v":7},{"v":8},{"v":9},{"v":11},{"v":12},{"v":13},{"v":14},{"v":15},{"v":16},{"v":17},{"v":18},{"v":19},{"v":21},{"v":22},{"v":23},{"v":24},{"v":25},{"v":26},{"v":27},{"v":28},{"v":29},{"v":31},{"v":32},{"v":33},{"v":34},{"v":35},{"v":36},{"v":37},{"v":38},{"v":39}],
    "xlabels": [
{"flux":1e-5,"base":"10","exp":"-5"},{"flux":1e-4,"base":"10","exp":"-4"},{"flux":1e-3,"base":"10","exp":"-3"}
    ],
    "tees": [
{"flux":1.366e-5,"temp":36.55,"txt":"T","sub":"nor"},{"flux":1.366e-5,"temp":31.33,"txt":"T","sub":"sep"}
    ],
    "eqs": [
{"flux":1.766e-5,"temp":36.55,"txt":"=\u00a0\u00a0\u00a0 57.91\u00a0 +\u00a09.52\u00a0 log\u00a0X\u00a0 +\u00a00.06\u00a0 (log\u00a0X)²\u00a0\u00a0\u00a0MK."},
{"flux":1.766e-5,"temp":31.33,"txt":"=\u00a0\u00a0\u00a0 98.42\u00a0 +31.49\u00a0 log\u00a0X\u00a0 +\u00a02.77\u00a0 (log\u00a0X)²\u00a0\u00a0\u00a0MK"},
{"flux":1.401e-5,"temp":34.43,"txt":"1\u00a0σ\u00a0\u00a0=\u00a0\u00a0\u00a05.03\u00a0\u00a0MK"},
{"flux":1.401e-5,"temp":29.47,"txt":"1\u00a0σ\u00a0\u00a0=\u00a0\u00a0\u00a02.57\u00a0\u00a0MK"}
    ],
    "legend": [
{"flux":1.605e-4,"temp":4.89,"txt":"SEP flares =","sym_flux":4.948e-4,"sym_temp":5.38}
    ]
  },
  "layer": [
    {
      "data": {"name": "dots"},
      "mark": {"type": "point", "shape": "square", "filled": true, "size": 8, "color": "black", "opacity": 1, "strokeWidth": 0},
      "encoding": {
        "x": {"field": "flux", "type": "quantitative",
          "scale": {"type": "log", "domain": [1e-5, 1e-3], "nice": false},
          "axis": {"orient": "bottom", "labels": false, "values": [1e-5, 1e-4, 1e-3],
            "title": "Maximum X ray Flux\u00a0 W m⁻²", "titleFontSize": 23, "titlePadding": 44}},
        "y": {"field": "temp", "type": "quantitative",
          "scale": {"domain": [0, 40], "nice": false, "zero": true},
          "axis": {"orient": "left", "values": [0, 10, 20, 30, 40],
            "labelFontSize": 22, "labelFlush": true, "labelFlushOffset": 0, "labelPadding": 4,
            "title": "Maximim Temperature MK", "titleFontSize": 24, "titlePadding": 35}}
      }
    },
    {
      "data": {"name": "sep"},
      "mark": {"type": "point", "shape": "diamond", "filled": false, "size": 90, "color": "black", "strokeWidth": 1.6, "opacity": 1},
      "encoding": {
        "x": {"field": "flux", "type": "quantitative"},
        "y": {"field": "temp", "type": "quantitative"}
      }
    },
    {
      "data": {"name": "fits"},
      "mark": {"type": "line", "color": "black", "strokeWidth": 1.6, "interpolate": "monotone"},
      "encoding": {
        "x": {"field": "flux", "type": "quantitative"},
        "y": {"field": "temp", "type": "quantitative"},
        "detail": {"field": "fit", "type": "nominal"}
      }
    },
    {
      "data": {"name": "xmajor"},
      "mark": {"type": "rule", "color": "black", "strokeWidth": 2},
      "encoding": {"x": {"field": "v", "type": "quantitative"}, "y": {"datum": 0, "type": "quantitative"}, "y2": {"datum": 0.98}}
    },
    {
      "data": {"name": "xmajor"},
      "mark": {"type": "rule", "color": "black", "strokeWidth": 2},
      "encoding": {"x": {"field": "v", "type": "quantitative"}, "y": {"datum": 40, "type": "quantitative"}, "y2": {"datum": 39.02}}
    },
    {
      "data": {"name": "xminor"},
      "mark": {"type": "rule", "color": "black", "strokeWidth": 2},
      "encoding": {"x": {"field": "v", "type": "quantitative"}, "y": {"datum": 0, "type": "quantitative"}, "y2": {"datum": 0.49}}
    },
    {
      "data": {"name": "xminor"},
      "mark": {"type": "rule", "color": "black", "strokeWidth": 2},
      "encoding": {"x": {"field": "v", "type": "quantitative"}, "y": {"datum": 40, "type": "quantitative"}, "y2": {"datum": 39.51}}
    },
    {
      "data": {"name": "ymajor"},
      "mark": {"type": "rule", "color": "black", "strokeWidth": 2},
      "encoding": {"y": {"field": "v", "type": "quantitative"}, "x": {"datum": 1e-5, "type": "quantitative"}, "x2": {"datum": 1.0904e-5}}
    },
    {
      "data": {"name": "ymajor"},
      "mark": {"type": "rule", "color": "black", "strokeWidth": 2},
      "encoding": {"y": {"field": "v", "type": "quantitative"}, "x": {"datum": 1e-3, "type": "quantitative"}, "x2": {"datum": 9.171e-4}}
    },
    {
      "data": {"name": "yminor"},
      "mark": {"type": "rule", "color": "black", "strokeWidth": 2},
      "encoding": {"y": {"field": "v", "type": "quantitative"}, "x": {"datum": 1e-5, "type": "quantitative"}, "x2": {"datum": 1.0442e-5}}
    },
    {
      "data": {"name": "yminor"},
      "mark": {"type": "rule", "color": "black", "strokeWidth": 2},
      "encoding": {"y": {"field": "v", "type": "quantitative"}, "x": {"datum": 1e-3, "type": "quantitative"}, "x2": {"datum": 9.577e-4}}
    },
    {
      "data": {"name": "xlabels"},
      "mark": {"type": "text", "align": "right", "baseline": "alphabetic", "fontSize": 22, "dy": 33, "dx": 0, "color": "black"},
      "encoding": {
        "x": {"field": "flux", "type": "quantitative"},
        "y": {"datum": 0, "type": "quantitative"},
        "text": {"field": "base"}
      }
    },
    {
      "data": {"name": "xlabels"},
      "mark": {"type": "text", "align": "left", "baseline": "alphabetic", "fontSize": 22, "dy": 22, "dx": 1.5, "color": "black"},
      "encoding": {
        "x": {"field": "flux", "type": "quantitative"},
        "y": {"datum": 0, "type": "quantitative"},
        "text": {"field": "exp"}
      }
    },
    {
      "data": {"name": "tees"},
      "mark": {"type": "text", "align": "left", "baseline": "alphabetic", "fontSize": 20, "color": "black"},
      "encoding": {
        "x": {"field": "flux", "type": "quantitative"},
        "y": {"field": "temp", "type": "quantitative"},
        "text": {"field": "txt"}
      }
    },
    {
      "data": {"name": "tees"},
      "mark": {"type": "text", "align": "left", "baseline": "alphabetic", "fontSize": 8, "dx": 8, "color": "black", "fontWeight": "bold"},
      "encoding": {
        "x": {"field": "flux", "type": "quantitative"},
        "y": {"field": "temp", "type": "quantitative"},
        "text": {"field": "sub"}
      }
    },
    {
      "data": {"name": "eqs"},
      "mark": {"type": "text", "align": "left", "baseline": "alphabetic", "fontSize": 20, "color": "black"},
      "encoding": {
        "x": {"field": "flux", "type": "quantitative"},
        "y": {"field": "temp", "type": "quantitative"},
        "text": {"field": "txt"}
      }
    },
    {
      "data": {"name": "legend"},
      "mark": {"type": "text", "align": "left", "baseline": "alphabetic", "fontSize": 16.5, "color": "black"},
      "encoding": {
        "x": {"field": "flux", "type": "quantitative"},
        "y": {"field": "temp", "type": "quantitative"},
        "text": {"field": "txt"}
      }
    },
    {
      "data": {"name": "legend"},
      "mark": {"type": "point", "shape": "diamond", "filled": false, "size": 90, "color": "black", "strokeWidth": 1.6, "opacity": 1},
      "encoding": {
        "x": {"field": "sym_flux", "type": "quantitative"},
        "y": {"field": "sym_temp", "type": "quantitative"}
      }
    }
  ]
}
